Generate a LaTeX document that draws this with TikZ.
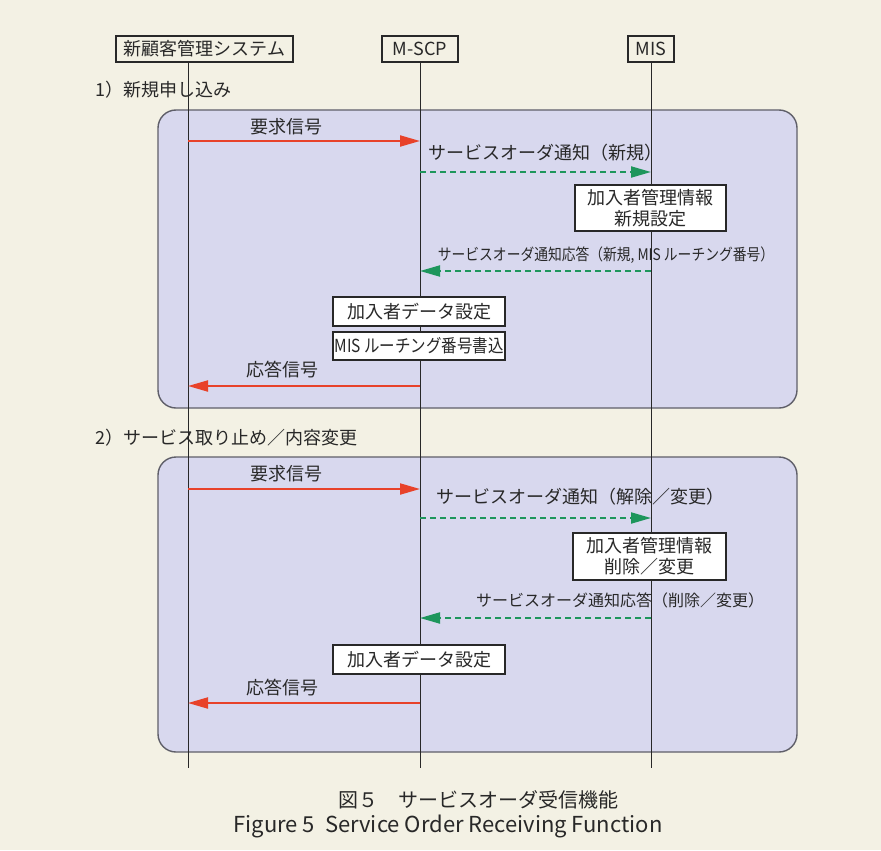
\documentclass[tikz,border=0pt]{standalone}
\usepackage{fontspec}
\setmainfont{Noto Sans CJK JP}
\usetikzlibrary{arrows.meta}
\definecolor{bg}{RGB}{243,241,228}
\definecolor{panel}{RGB}{216,216,238}
\definecolor{pedge}{RGB}{95,95,105}
\definecolor{ared}{RGB}{232,66,42}
\definecolor{agreen}{RGB}{30,150,92}
\definecolor{ink}{RGB}{40,40,40}
\begin{document}
\begin{tikzpicture}[x=0.5pt,y=-0.5pt,
  hdr/.style={draw=ink, line width=0.6pt, fill=bg, inner sep=0pt, minimum height=13pt, text=ink, font=\fontsize{9}{10}\selectfont},
  proc/.style={draw=ink, line width=0.6pt, fill=white, inner sep=0pt, text=ink, align=center, font=\fontsize{9}{10.5}\selectfont},
  lbl/.style={inner sep=0pt, text=ink, font=\fontsize{9}{10}\selectfont},
  slbl/.style={inner sep=0pt, text=ink, font=\fontsize{8}{9}\selectfont},
  life/.style={draw=ink, line width=0.5pt},
  pnl/.style={draw=pedge, fill=panel, line width=0.7pt, rounded corners=9pt},
  req/.style={draw=ared, line width=1pt, -{Triangle[length=10pt,width=5.5pt]}, color=ared},
  ntf/.style={draw=agreen, line width=1pt, dash pattern=on 3pt off 2pt, -{Triangle[length=10pt,width=5.5pt]}, color=agreen}
]
\useasboundingbox (0,0) rectangle (881,850);
\fill[bg] (0,0) rectangle (881,850);

% panels
\draw[pnl] (158,110) rectangle (797,408);
\draw[pnl] (158,457) rectangle (797,752);

% headers
\node[hdr, minimum width=88.5pt] (sys) at (204.5,49) {新顧客管理システム};
\node[hdr, minimum width=38pt] (scp) at (420,49) {M-SCP};
\node[hdr, minimum width=23pt] (mis) at (651,49) {MIS};

% lifelines
\coordinate (sysT) at (188,62);
\coordinate (sysB) at (188,768);
\coordinate (scpT) at (420,62);
\coordinate (scpB) at (420,768);
\coordinate (misT) at (651,62);
\coordinate (misB) at (651,768);
\draw[life] (sysT) -- (sysB);
\draw[life] (scpT) -- (scpB);
\draw[life] (misT) -- (misB);

% section 1
\node[lbl, anchor=west] (sec1) at (95,90) {1）新規申し込み};
\coordinate (s1) at (188,141); \coordinate (m1) at (420,141);
\draw[req] (s1) -- (m1);
\node[lbl] (l1) at (286,127) {要求信号};
\coordinate (m2) at (420,172); \coordinate (i2) at (651,172);
\draw[ntf] (m2) -- (i2);
\node[lbl] (l2) at (545,153) {サービスオーダ通知（新規）};
\node[proc, minimum width=75.5pt, minimum height=23pt] (b1) at (650.5,208) {加入者管理情報\\新規設定};
\node[slbl] (l3) at (606,255) {\scalebox{0.86}[1]{サービスオーダ通知応答（新規, MIS ルーチング番号）}};
\coordinate (i3) at (651,271); \coordinate (m3) at (420,271);
\draw[ntf] (i3) -- (m3);
\node[proc, minimum width=86pt, minimum height=14.5pt] (b2) at (419,311.5) {加入者データ設定};
\node[proc, minimum width=86pt, minimum height=14pt] (b3) at (419,346) {\scalebox{0.86}[1]{MIS ルーチング番号書込}};
\node[lbl] (l4) at (282,370) {応答信号};
\coordinate (m4) at (420,386); \coordinate (s4) at (188,386);
\draw[req] (m4) -- (s4);

% section 2
\node[lbl, anchor=west] (sec2) at (95,438) {2）サービス取り止め／内容変更};
\coordinate (s5) at (188,489); \coordinate (m5) at (420,489);
\draw[req] (s5) -- (m5);
\node[lbl] (l5) at (286,474) {要求信号};
\coordinate (m6) at (420,518); \coordinate (i6) at (651,518);
\draw[ntf] (m6) -- (i6);
\node[lbl] (l6) at (580,497) {サービスオーダ通知（解除／変更）};
\node[proc, minimum width=76.5pt, minimum height=23.5pt] (b4) at (649.5,556.5) {加入者管理情報\\削除／変更};
\node[slbl] (l7) at (620,600) {サービスオーダ通知応答（削除／変更）};
\coordinate (i7) at (651,618); \coordinate (m7) at (420,618);
\draw[ntf] (i7) -- (m7);
\node[proc, minimum width=86pt, minimum height=14.5pt] (b5) at (419,659.5) {加入者データ設定};
\node[lbl] (l8) at (282,688) {応答信号};
\coordinate (m8) at (420,703); \coordinate (s8) at (188,703);
\draw[req] (m8) -- (s8);

% caption
\node[inner sep=0pt, text=ink, font=\fontsize{10}{12}\selectfont] (cap1) at (478,800) {図５　サービスオーダ受信機能};
\node[inner sep=0pt, text=ink, font=\fontsize{11}{12}\selectfont] (cap2) at (448,826) {Figure 5\ \ Service Order Receiving Function};
\end{tikzpicture}
\end{document}
